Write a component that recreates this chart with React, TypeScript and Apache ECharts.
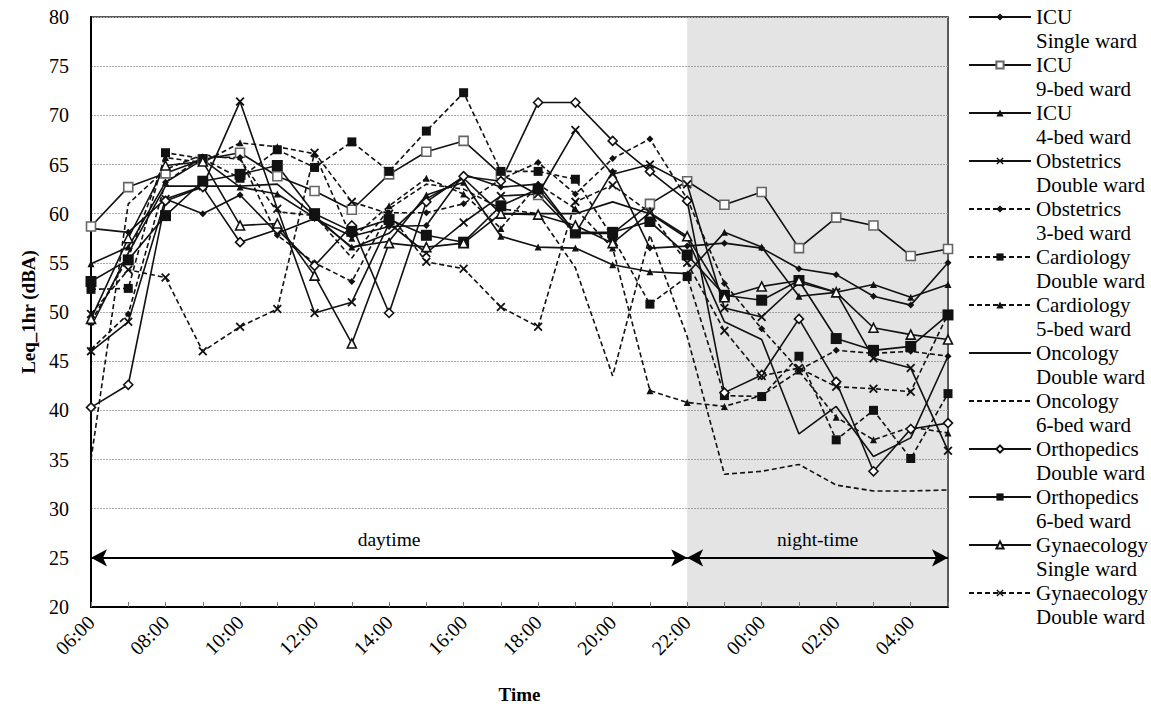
import React, { useEffect, useRef } from "react";
import * as echarts from "echarts";

const hours = ["06:00","07:00","08:00","09:00","10:00","11:00","12:00","13:00","14:00","15:00","16:00","17:00","18:00","19:00","20:00","21:00","22:00","23:00","00:00","01:00","02:00","03:00","04:00","05:00"];

const icuSingle = [58.5, 58.1, 61.5, 60.0, 61.9, 58.0, 59.5, 57.7, 58.7, 58.8, 64.0, 62.7, 63.0, 58.0, 64.3, 56.5, 56.7, 57.0, 56.5, 54.4, 53.8, 51.6, 50.7, 55.0];
const icu9Bed = [58.7, 62.7, 64.1, 65.5, 66.2, 63.8, 62.3, 60.4, 64.0, 66.3, 67.4, 64.0, 61.9, 58.0, 58.0, 61.0, 63.3, 60.9, 62.2, 56.5, 59.6, 58.8, 55.7, 56.4];
const icu4Bed = [54.9, 56.6, 63.2, 65.5, 62.7, 62.0, 59.6, 56.6, 57.2, 61.9, 63.2, 57.7, 56.6, 56.5, 54.8, 54.1, 53.9, 58.1, 56.6, 51.6, 52.0, 52.8, 51.5, 52.8];
const obsDouble = [46.0, 49.0, 61.5, 62.8, 71.4, 60.5, 49.9, 51.0, 59.0, 56.0, 59.1, 61.8, 62.0, 68.5, 64.0, 65.0, 63.0, 50.4, 49.5, 53.0, 52.0, 45.3, 44.3, 35.9];
const obs3Bed = [46.2, 49.8, 63.2, 65.8, 65.7, 57.8, 55.0, 53.1, 60.1, 60.1, 61.0, 63.5, 65.2, 62.0, 65.6, 67.6, 61.5, 52.9, 48.3, 44.1, 46.1, 45.8, 46.0, 45.5];
const cardDouble = [52.3, 52.4, 66.2, 65.6, 63.6, 66.5, 64.7, 67.3, 64.3, 68.4, 72.3, 64.3, 64.3, 63.5, 57.6, 50.8, 53.6, 41.5, 41.4, 45.5, 37.0, 40.0, 35.1, 41.7];
const card5Bed = [49.0, 55.5, 65.7, 65.2, 67.2, 66.8, 66.1, 57.5, 60.8, 63.6, 62.0, 58.5, 63.0, 60.5, 56.5, 42.0, 40.8, 40.4, 41.5, 44.0, 39.3, 37.0, 38.3, 37.7];
const oncDouble = [48.5, 56.0, 62.8, 62.8, 62.8, 63.0, 59.8, 56.5, 58.0, 61.5, 63.6, 60.0, 60.0, 60.0, 61.2, 60.0, 57.5, 49.0, 47.2, 37.6, 40.4, 35.3, 37.2, 45.5];
const onc6Bed = [35.0, 61.0, 64.5, 66.0, 65.5, 60.2, 59.8, 55.5, 60.5, 63.0, 62.5, 60.5, 60.0, 54.5, 43.5, 57.8, 47.5, 33.5, 33.8, 34.5, 32.4, 31.8, 31.8, 31.9];
const orthoDouble = [40.3, 42.6, 61.3, 62.7, 57.1, 58.4, 54.7, 58.8, 49.9, 61.2, 63.8, 63.3, 71.3, 71.3, 67.4, 64.3, 61.3, 41.8, 43.6, 49.3, 42.9, 33.8, 38.1, 38.7];
const ortho6Bed = [53.1, 55.3, 59.8, 63.3, 64.0, 64.9, 60.0, 58.2, 59.4, 57.8, 57.1, 60.8, 62.5, 58.1, 58.1, 59.2, 55.8, 51.7, 51.2, 53.2, 47.3, 46.1, 46.5, 49.7];
const gynSingle = [49.3, 57.5, 64.9, 65.3, 58.8, 59.0, 53.7, 46.8, 57.0, 56.6, 57.0, 60.0, 59.9, 58.8, 57.0, 60.1, 57.7, 51.5, 52.6, 53.2, 52.0, 48.4, 47.7, 47.2];
const gynDouble = [49.8, 54.3, 53.5, 46.0, 48.5, 50.3, 66.2, 61.2, 60.0, 55.1, 54.4, 50.5, 48.5, 61.2, 62.9, 60.1, 55.0, 48.1, 43.5, 44.3, 42.4, 42.2, 41.9, 49.8];

const periodLabels = ["daytime", "night-time"];
const arrowLevel = 25;

const FONT = "'Liberation Serif', 'Times New Roman', serif";
const XSYM = "path://M0,1.4L1.4,0L5,3.6L8.6,0L10,1.4L6.4,5L10,8.6L8.6,10L5,6.4L1.4,10L0,8.6L3.6,5Z";

type Spec = { name: string; data: number[]; dashed: boolean; symbol: string; size: number; hollow?: boolean; stroke?: string };

const specs: Spec[] = [
  { name: "ICU\nSingle ward", data: icuSingle, dashed: false, symbol: "diamond", size: 7 },
  { name: "ICU\n9-bed ward", data: icu9Bed, dashed: false, symbol: "rect", size: 9, hollow: true, stroke: "#666" },
  { name: "ICU\n4-bed ward", data: icu4Bed, dashed: false, symbol: "triangle", size: 7 },
  { name: "Obstetrics\nDouble ward", data: obsDouble, dashed: false, symbol: XSYM, size: 9 },
  { name: "Obstetrics\n3-bed ward", data: obs3Bed, dashed: true, symbol: "diamond", size: 7 },
  { name: "Cardiology\nDouble ward", data: cardDouble, dashed: true, symbol: "rect", size: 9 },
  { name: "Cardiology\n5-bed ward", data: card5Bed, dashed: true, symbol: "triangle", size: 7 },
  { name: "Oncology\nDouble ward", data: oncDouble, dashed: false, symbol: "none", size: 0 },
  { name: "Oncology\n6-bed ward", data: onc6Bed, dashed: true, symbol: "none", size: 0 },
  { name: "Orthopedics\nDouble ward", data: orthoDouble, dashed: false, symbol: "diamond", size: 9, hollow: true },
  { name: "Orthopedics\n6-bed ward", data: ortho6Bed, dashed: false, symbol: "rect", size: 11 },
  { name: "Gynaecology\nSingle ward", data: gynSingle, dashed: false, symbol: "triangle", size: 9, hollow: true },
  { name: "Gynaecology\nDouble ward", data: gynDouble, dashed: true, symbol: XSYM, size: 9 },
];

export default function App() {
  const ref = useRef<HTMLDivElement>(null);
  useEffect(() => {
    if (!ref.current) return;
    const chart = echarts.init(ref.current, null, { renderer: "svg" });
    const series: any[] = specs.map((s) => ({
      name: s.name,
      type: "line",
      data: s.data,
      symbol: s.symbol,
      symbolSize: s.size,
      showSymbol: s.symbol !== "none",
      lineStyle: { color: "#111", width: 1.6, type: s.dashed ? [5, 3] : "solid" },
      itemStyle: s.hollow
        ? { color: "#fff", borderColor: s.stroke || "#111", borderWidth: 1.6 }
        : { color: "#111", borderColor: "#111", borderWidth: 0 },
      emphasis: { disabled: true },
      z: 3,
    }));
    series.push({
      type: "line",
      data: [],
      silent: true,
      markArea: {
        silent: true,
        itemStyle: { color: "rgba(120,120,120,0.2)" },
        data: [[{ xAxis: "22:00" }, { xAxis: "05:00" }]],
      },
      markLine: {
        silent: true,
        symbol: ["arrow", "arrow"],
        symbolSize: [13, 16],
        lineStyle: { color: "#000", width: 2, type: "solid" },
        label: {
          show: true,
          position: "middle",
          color: "#000",
          fontFamily: FONT,
          fontSize: 19.5,
          distance: 8,
          formatter: (p: any) => p.name,
        },
        data: [
          [{ name: periodLabels[0], coord: [hours[0], arrowLevel] }, { coord: ["22:00", arrowLevel] }],
          [{ name: periodLabels[1], coord: ["22:00", arrowLevel] }, { coord: [hours[hours.length - 1], arrowLevel] }],
        ],
      },
    });
    chart.setOption({
      animation: false,
      backgroundColor: "#fff",
      textStyle: { fontFamily: FONT },
      grid: { left: 91, right: 203, top: 17, bottom: 99, show: true, borderColor: "#222", borderWidth: 1.5, backgroundColor: "transparent" },
      legend: {
        orient: "vertical",
        left: 968,
        top: -19,
        padding: 0,
        itemWidth: 62,
        itemHeight: 9,
        itemGap: -24,
        data: specs.map((s) =>
          s.symbol === "none" ? { name: s.name, itemStyle: { opacity: 0 } } : { name: s.name }
        ),
        selectedMode: false,
        formatter: (name: string) => " \n" + name,
        textStyle: { fontFamily: FONT, fontSize: 21, lineHeight: 24, color: "#000" },
      },
      xAxis: {
        type: "category",
        data: hours,
        boundaryGap: false,
        name: "Time",
        nameLocation: "middle",
        nameGap: 78,
        nameTextStyle: { fontFamily: FONT, fontSize: 19, fontWeight: "bold", color: "#000" },
        axisLine: { show: true, lineStyle: { color: "#000", width: 2 } },
        axisTick: { show: true, inside: true, length: 5, interval: 0, lineStyle: { color: "#777", width: 1 } },
        axisLabel: { interval: 1, rotate: 45, margin: 12, fontFamily: FONT, fontSize: 20, color: "#000" },
        splitLine: { show: false },
      },
      yAxis: {
        type: "value",
        min: 20,
        max: 80,
        interval: 5,
        name: "Leq_1hr (dBA)",
        nameLocation: "middle",
        nameGap: 52,
        nameTextStyle: { fontFamily: FONT, fontSize: 19, fontWeight: "bold", color: "#000" },
        axisLine: { show: true, lineStyle: { color: "#000", width: 2 } },
        axisTick: { show: false },
        axisLabel: { margin: 22, fontFamily: FONT, fontSize: 20, color: "#000" },
        splitLine: { show: true, lineStyle: { color: "#aaa", width: 1, type: [2, 1] } },
      },
      series,
    });
    return () => chart.dispose();
  }, []);
  return <div ref={ref} style={{ width: 1151, height: 709, position: "absolute", left: 0, top: 0 }} />;
}
